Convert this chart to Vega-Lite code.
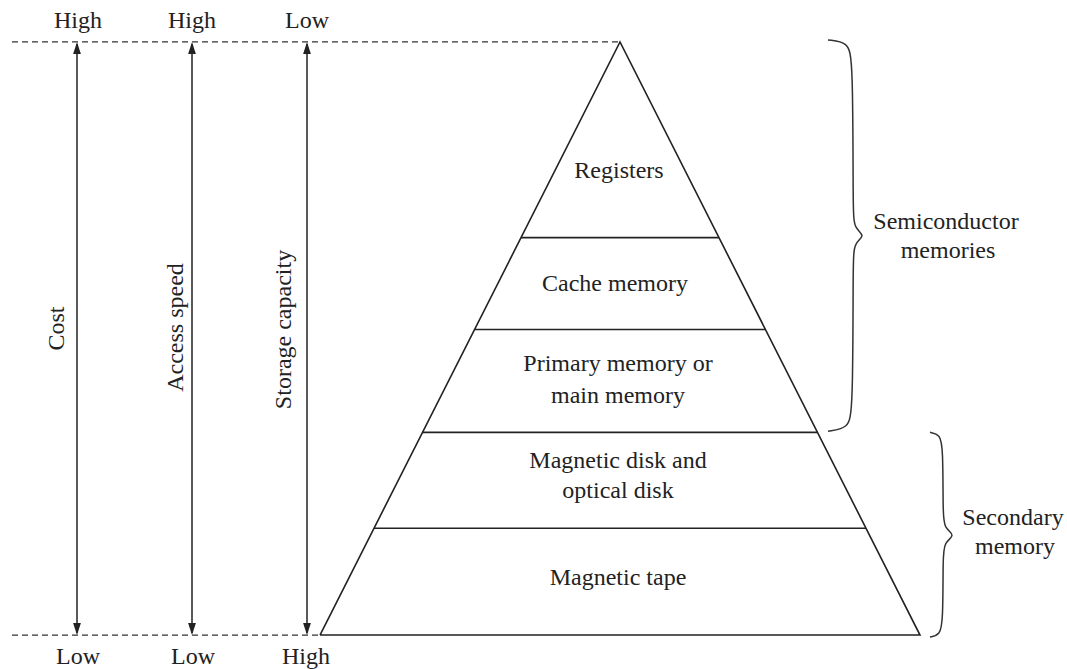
{
  "$schema": "https://vega.github.io/schema/vega-lite/v6.json",
  "width": 1067,
  "height": 669,
  "autosize": {"type": "fit", "contains": "padding"},
  "padding": 0,
  "background": "white",
  "config": {"view": {"stroke": null}},
  "datasets": {
    "dashes": [
      {"x": 12, "x2": 620, "y": 42},
      {"x": 12, "x2": 318, "y": 636}
    ],
    "arrows": [
      {"name": "Cost", "x": 77, "y": 44, "y2": 634},
      {"name": "Access speed", "x": 192, "y": 44, "y2": 634},
      {"name": "Storage capacity", "x": 307, "y": 44, "y2": 634}
    ],
    "headsUp": [
      {"x": 77, "y": 48},
      {"x": 192, "y": 48},
      {"x": 307, "y": 48}
    ],
    "headsDown": [
      {"x": 77, "y": 630},
      {"x": 192, "y": 630},
      {"x": 307, "y": 630}
    ],
    "pyramid": [
      {"o": 0, "x": 320, "y": 636},
      {"o": 1, "x": 620, "y": 42},
      {"o": 2, "x": 920, "y": 636},
      {"o": 3, "x": 320, "y": 636}
    ],
    "dividers": [
      {"x": 521, "x2": 719, "y": 238},
      {"x": 474.5, "x2": 765.5, "y": 330},
      {"x": 422.5, "x2": 817.5, "y": 433},
      {"x": 374, "x2": 866, "y": 529}
    ],
    "braces": [
      {"b": "semi", "o": 0, "x": 828, "y": 40},
      {"b": "semi", "o": 1, "x": 848, "y": 42},
      {"b": "semi", "o": 2, "x": 853, "y": 60},
      {"b": "semi", "o": 3, "x": 853, "y": 210},
      {"b": "semi", "o": 4, "x": 854, "y": 229},
      {"b": "semi", "o": 5, "x": 866, "y": 236},
      {"b": "semi", "o": 6, "x": 854, "y": 243},
      {"b": "semi", "o": 7, "x": 853, "y": 262},
      {"b": "semi", "o": 8, "x": 853, "y": 412},
      {"b": "semi", "o": 9, "x": 848, "y": 429},
      {"b": "semi", "o": 10, "x": 828, "y": 432},
      {"b": "sec", "o": 0, "x": 930, "y": 433},
      {"b": "sec", "o": 1, "x": 940, "y": 435},
      {"b": "sec", "o": 2, "x": 943, "y": 448},
      {"b": "sec", "o": 3, "x": 943, "y": 514},
      {"b": "sec", "o": 4, "x": 944, "y": 529},
      {"b": "sec", "o": 5, "x": 956, "y": 536},
      {"b": "sec", "o": 6, "x": 944, "y": 543},
      {"b": "sec", "o": 7, "x": 943, "y": 558},
      {"b": "sec", "o": 8, "x": 943, "y": 622},
      {"b": "sec", "o": 9, "x": 940, "y": 636},
      {"b": "sec", "o": 10, "x": 930, "y": 638}
    ],
    "labels": [
      {"t": "High", "x": 78, "y": 28},
      {"t": "High", "x": 192, "y": 28},
      {"t": "Low", "x": 307, "y": 28},
      {"t": "Low", "x": 78, "y": 665},
      {"t": "Low", "x": 193, "y": 665},
      {"t": "High", "x": 306, "y": 665},
      {"t": "Registers", "x": 619, "y": 178},
      {"t": "Cache memory", "x": 615, "y": 291},
      {"t": "Primary memory or", "x": 618, "y": 372},
      {"t": "main memory", "x": 618, "y": 404},
      {"t": "Magnetic disk and", "x": 618, "y": 469},
      {"t": "optical disk", "x": 618, "y": 499},
      {"t": "Magnetic tape", "x": 618, "y": 586},
      {"t": "Semiconductor", "x": 946, "y": 229},
      {"t": "memories", "x": 948, "y": 258},
      {"t": "Secondary", "x": 1013, "y": 526},
      {"t": "memory", "x": 1015, "y": 555}
    ],
    "vlabels": [
      {"t": "Cost", "x": 57, "y": 329},
      {"t": "Access speed", "x": 176, "y": 328},
      {"t": "Storage capacity", "x": 284, "y": 330}
    ]
  },
  "layer": [
    {
      "data": {"name": "dashes"},
      "mark": {"type": "rule", "color": "#333", "strokeWidth": 1.3, "strokeDash": [6, 4]},
      "encoding": {
        "x": {"field": "x", "type": "quantitative", "scale": {"domain": [0, 1067], "nice": false, "zero": false}, "axis": null},
        "x2": {"field": "x2"},
        "y": {"field": "y", "type": "quantitative", "scale": {"domain": [0, 669], "nice": false, "zero": false, "reverse": true}, "axis": null}
      }
    },
    {
      "data": {"name": "arrows"},
      "mark": {"type": "rule", "color": "#222", "strokeWidth": 1.5},
      "encoding": {
        "x": {"field": "x", "type": "quantitative", "axis": null},
        "y": {"field": "y", "type": "quantitative", "axis": null},
        "y2": {"field": "y2"}
      }
    },
    {
      "data": {"name": "headsUp"},
      "mark": {"type": "point", "shape": "M0,-1L0.65,1L-0.65,1Z", "size": 144, "filled": true, "color": "#222", "opacity": 1},
      "encoding": {
        "x": {"field": "x", "type": "quantitative", "axis": null},
        "y": {"field": "y", "type": "quantitative", "axis": null}
      }
    },
    {
      "data": {"name": "headsDown"},
      "mark": {"type": "point", "shape": "M0,1L0.65,-1L-0.65,-1Z", "size": 144, "filled": true, "color": "#222", "opacity": 1},
      "encoding": {
        "x": {"field": "x", "type": "quantitative", "axis": null},
        "y": {"field": "y", "type": "quantitative", "axis": null}
      }
    },
    {
      "data": {"name": "pyramid"},
      "mark": {"type": "line", "color": "#222", "strokeWidth": 1.6},
      "encoding": {
        "x": {"field": "x", "type": "quantitative", "axis": null},
        "y": {"field": "y", "type": "quantitative", "axis": null},
        "order": {"field": "o", "type": "quantitative"}
      }
    },
    {
      "data": {"name": "dividers"},
      "mark": {"type": "rule", "color": "#222", "strokeWidth": 1.6},
      "encoding": {
        "x": {"field": "x", "type": "quantitative", "axis": null},
        "x2": {"field": "x2"},
        "y": {"field": "y", "type": "quantitative", "axis": null}
      }
    },
    {
      "data": {"name": "braces"},
      "mark": {"type": "line", "color": "#333", "strokeWidth": 1.5, "interpolate": "basis"},
      "encoding": {
        "x": {"field": "x", "type": "quantitative", "axis": null},
        "y": {"field": "y", "type": "quantitative", "axis": null},
        "detail": {"field": "b", "type": "nominal"},
        "order": {"field": "o", "type": "quantitative"}
      }
    },
    {
      "data": {"name": "labels"},
      "mark": {"type": "text", "font": "Liberation Serif", "fontSize": 24, "color": "#222", "align": "center", "baseline": "alphabetic"},
      "encoding": {
        "x": {"field": "x", "type": "quantitative", "axis": null},
        "y": {"field": "y", "type": "quantitative", "axis": null},
        "text": {"field": "t", "type": "nominal"}
      }
    },
    {
      "data": {"name": "vlabels"},
      "mark": {"type": "text", "font": "Liberation Serif", "fontSize": 24, "color": "#222", "align": "center", "baseline": "middle", "angle": 270},
      "encoding": {
        "x": {"field": "x", "type": "quantitative", "axis": null},
        "y": {"field": "y", "type": "quantitative", "axis": null},
        "text": {"field": "t", "type": "nominal"}
      }
    }
  ]
}
